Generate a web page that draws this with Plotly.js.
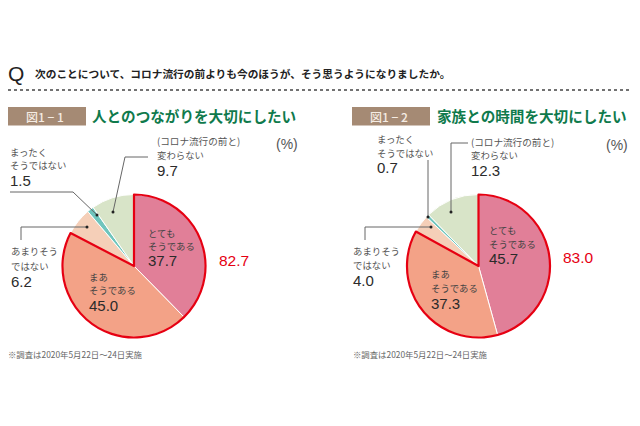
<!DOCTYPE html>
<html><head><meta charset="utf-8">
<script src="https://cdn.plot.ly/plotly-3.0.1.min.js"></script>
<style>html,body{margin:0;padding:0;background:#fff}#c{width:640px;height:426px}</style></head>
<body><div id="c"></div>
<script>
const categories = ['とてもそうである','まあそうである','あまりそうではない','まったくそうではない','(コロナ流行の前と)変わらない'];
const values1 = [37.7, 45.0, 6.2, 1.5, 9.7];
const values2 = [45.7, 37.3, 4.0, 0.7, 12.3];
const totals = ['82.7', '83.0'];
const sliceColors = ['#e17f98', '#f3a287', '#f5cfb8', '#6fc5bd', '#d8e4c8'];
const question = '次のことについて、コロナ流行の前よりも今のほうが、そう思うようになりましたか。';
const figLabels = ['図1 − 1', '図1 − 2'];
const figTitles = ['人とのつながりを大切にしたい', '家族との時間を大切にしたい'];
const footnote = '※調査は2020年5月22日〜24日実施';

const W = 640, H = 426, RED = '#e60012', JP = '"Noto Sans CJK JP", "Noto Sans", sans-serif', LAT = '"Liberation Sans", Arial, sans-serif';
const px = x => x / W, py = y => 1 - y / H;
const ann = [], shapes = [];
function t(x, y, text, size, color, opt) {
  ann.push(Object.assign({xref:'paper', yref:'paper', x:px(x), y:py(y), text, showarrow:false, xanchor:'left', yanchor:'middle',
    font:{size, color, family:JP}, borderpad:0, borderwidth:0}, opt||{}));
}
function num(x, y, text, color, size){ t(x, y, text, size||15, color||'#2b2b2b', {font:{size:size||15, color:color||'#2b2b2b', family:LAT}}); }
function leader(points){
  const d = points.map((p,i)=>(i?'L':'M')+px(p[0])+' '+py(p[1])).join(' ');
  shapes.push({type:'path', xref:'paper', yref:'paper', path:d, line:{color:'#666', width:1}, fillcolor:'rgba(0,0,0,0)'});
  const e = points[points.length-1];
  shapes.push({type:'circle', xref:'paper', yref:'paper', x0:px(e[0]-1.5), x1:px(e[0]+1.5), y0:py(e[1]+1.5), y1:py(e[1]-1.5), fillcolor:'#222', line:{width:0}});
}
function pieTraces(vals, cx, cy, r, name){
  const domain = {x:[px(cx-r), px(cx+r)], y:[py(cy+r), py(cy-r)]};
  const top = vals[0]+vals[1], rest = vals[2]+vals[3]+vals[4];
  return [
    {type:'pie', sort:false, direction:'clockwise', rotation:0, values:vals, labels:categories, domain, textinfo:'none', hoverinfo:'label+value',
     marker:{colors:sliceColors, line:{color:'#ffffff', width:1}}},
    {type:'pie', sort:false, direction:'clockwise', rotation:0, values:[top, rest], labels:[name+'肯定', name+'その他'], domain, textinfo:'none', hoverinfo:'skip',
     marker:{colors:['rgba(0,0,0,0)','rgba(0,0,0,0)'], line:{color:[RED,'rgba(0,0,0,0)'], width:2.2}}}
  ];
}
// header
t(8, 73, 'Q', 21, '#222', {font:{size:21, color:'#222', family:LAT}});
t(35, 73.5, question, 10.7, '#222', {font:{size:10.7, color:'#222', family:JP, weight:600}});
shapes.push({type:'line', xref:'paper', yref:'paper', x0:px(8), x1:px(632), y0:py(90), y1:py(90), line:{color:'#444', width:1.6, dash:'dot'}});
// panel boxes + titles
[[8,92,0],[352,437,1]].forEach(([bx,tx,i])=>{
  shapes.push({type:'rect', xref:'paper', yref:'paper', x0:px(bx), x1:px(bx+78), y0:py(125.5), y1:py(107), fillcolor:'#a58a74', line:{width:0}});
  t(bx+37, 116.5, figLabels[i], 12, '#f5ece3', {xanchor:'center', font:{size:12, color:'#f5ece3', family:JP, weight:500}});
  t(tx, 116, figTitles[i], 14.6, '#0f7a4c', {font:{size:14.6, color:'#0f7a4c', family:JP, weight:700}});
  t(i?353:8, 354, footnote, 8.4, '#666');
});
const g = '#555', d = '#444', fs = 9.4;
// left
t(10,152,'まったく',fs,g); t(10,165,'そうではない',fs,g); num(10,180.5,values1[3].toFixed(1));
t(157,141,'(コロナ流行の前と)',9.6,g); t(157,155,'変わらない',fs,g); num(157,170,values1[4].toFixed(1));
t(276,144,'(%)',14,g,{font:{size:14,color:g,family:LAT}});
t(148,233,'とても',fs,d); t(148,246,'そうである',fs,d); num(148,260,values1[0].toFixed(1));
num(219,260,totals[0],RED,15.5);
t(89,277,'まあ',fs,d); t(89,290,'そうである',fs,d); num(89,305,values1[1].toFixed(1));
t(11,251,'あまりそう',fs,g); t(11,266,'ではない',fs,g); num(11,281,values1[2].toFixed(1));
leader([[10,192],[73,192],[97,215]]);
leader([[148,157],[125,157],[113,212]]);
leader([[21,240],[21,227],[87,227]]);
// right
t(377,139,'まったく',fs,g); t(377,153,'そうではない',fs,g); num(377,168,values2[3].toFixed(1));
t(471,142,'(コロナ流行の前と)',9.6,g); t(471,155,'変わらない',fs,g); num(471,170,values2[4].toFixed(1));
t(606,145,'(%)',14,g,{font:{size:14,color:g,family:LAT}});
t(489,230,'とても',fs,d); t(489,244,'そうである',fs,d); num(489,258,values2[0].toFixed(1));
num(563,257,totals[1],RED,15.5);
t(431,274,'まあ',fs,d); t(431,288,'そうである',fs,d); num(431,303,values2[1].toFixed(1));
t(353,251,'あまりそう',fs,g); t(353,265,'ではない',fs,g); num(353,280,values2[2].toFixed(1));
leader([[428,160],[428,217]]);
leader([[468,143],[451,143],[451,212]]);
leader([[365,240],[365,227],[431,227]]);

const data = [...pieTraces(values1,134,266,71.5,'図1'), ...pieTraces(values2,478.5,266,71.5,'図2')];
Plotly.newPlot('c', data, {width:W, height:H, margin:{l:0,r:0,t:0,b:0}, showlegend:false, paper_bgcolor:'#fff', annotations:ann, shapes}, {displayModeBar:false, staticPlot:true});
</script></body></html>
